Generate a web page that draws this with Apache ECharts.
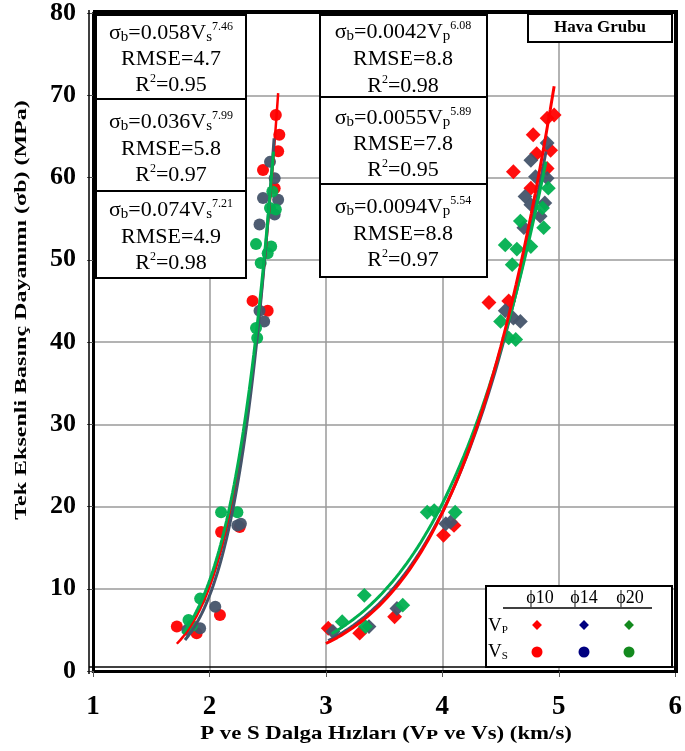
<!DOCTYPE html>
<html>
<head>
<meta charset="utf-8">
<script src="https://cdn.jsdelivr.net/npm/echarts@6/dist/echarts.min.js"></script>
<style>html,body{margin:0;padding:0;background:#fff}#c{width:685px;height:751px}</style>
</head>
<body>
<div id="c"></div>
<script>
// ---- data ----
const xTicks = [1, 2, 3, 4, 5, 6];
const yTicks = [0, 10, 20, 30, 40, 50, 60, 70, 80];

// S-wave velocity (circles)
const vsPhi10 = [[1.72,5.4],[1.89,4.6],[2.09,6.8],[2.10,16.9],[2.26,17.5],[2.37,45.0],[2.50,43.8],[2.57,67.6],[2.60,65.2],[2.59,63.2],[2.46,60.9],[2.56,58.7]];
const vsPhi14 = [[1.81,5.0],[1.92,5.2],[2.05,7.8],[2.24,17.7],[2.27,17.9],[2.43,43.8],[2.47,42.5],[2.52,61.9],[2.56,59.9],[2.46,57.5],[2.59,57.3],[2.43,54.3],[2.56,55.5]];
const vsPhi20 = [[1.82,6.2],[1.85,5.5],[1.92,8.8],[2.10,19.3],[2.24,19.3],[2.41,40.5],[2.40,41.7],[2.52,56.3],[2.57,56.1],[2.54,58.3],[2.40,51.9],[2.53,51.6],[2.44,49.6],[2.50,50.8]];

// P-wave velocity (diamonds)
const vpPhi10 = [[3.02,5.2],[3.29,4.6],[3.59,6.6],[4.01,16.5],[4.10,17.7],[4.40,44.8],[4.57,45.0],[4.61,60.7],[4.76,58.7],[4.78,65.2],[4.81,62.9],[4.90,61.1],[4.93,63.3],[4.90,67.2],[4.96,67.6]];
const vpPhi14 = [[3.06,4.8],[3.37,5.4],[3.61,7.6],[4.03,17.9],[4.07,18.1],[4.54,43.8],[4.61,42.9],[4.67,42.5],[4.70,53.9],[4.71,57.7],[4.76,56.7],[4.84,55.3],[4.88,56.9],[4.76,62.1],[4.80,60.1],[4.90,59.9],[4.90,64.2]];
const vpPhi20 = [[3.14,6.0],[3.33,9.2],[3.34,5.4],[3.66,8.0],[3.87,19.3],[3.93,19.5],[4.11,19.3],[4.50,42.5],[4.57,40.5],[4.63,40.3],[4.54,51.8],[4.60,49.4],[4.64,51.3],[4.67,54.7],[4.76,51.6],[4.87,53.9],[4.86,56.3],[4.91,58.7]];

// power-law fits printed on the chart: sigma = a * V^b, drawn over [from, to]
const fitVs10 = {a:0.058,  b:7.46, from:1.72, to:2.59};
const fitVs14 = {a:0.036,  b:7.99, from:1.79, to:2.555};
const fitVs20 = {a:0.074,  b:7.21, from:1.77, to:2.55};
const fitVp10 = {a:0.0042, b:6.08, from:3.00, to:4.96};
const fitVp14 = {a:0.0055, b:5.89, from:3.02, to:4.89};
const fitVp20 = {a:0.0094, b:5.54, from:3.05, to:4.89};

function fitCurve(f){
  const pts=[]; const n=60;
  for(let i=0;i<=n;i++){const x=f.from+(f.to-f.from)*i/n; pts.push([x, f.a*Math.pow(x,f.b)]);}
  return pts;
}

const RED='#ff0000', BLUE='#44546a', GREEN='#00b050';
const TRED='#ff1a1a', TBLUE='#2b3990', TGREEN='#1f8f2f';
const SERIF='"Liberation Serif","DejaVu Serif",serif';

function scatter(data,color,circle){
  return {type:'scatter', data, z:2,
    symbol: circle?'circle':'rect', symbolSize: circle?12:10.5, symbolRotate: circle?0:45,
    itemStyle:{color, opacity:0.95}, silent:true};
}
function line(f,color,w){
  return {type:'line', data:fitCurve(f), showSymbol:false, symbol:'none', z:3,
    lineStyle:{color, width:w}, silent:true};
}

function eqRich(color){
  return {
    m:{fontFamily:SERIF, fontSize:22, color, lineHeight:24, verticalAlign:'middle'},
    s:{fontFamily:SERIF, fontSize:15, color, lineHeight:14, verticalAlign:'bottom'},
    p:{fontFamily:SERIF, fontSize:12, color, lineHeight:10, verticalAlign:'top'}
  };
}
function txt(x,y,text,color){
  return {type:'text', x, y, z:20, style:{text, rich:eqRich(color), align:'center', verticalAlign:'middle'}};
}
function box(x,y,w,h){
  return {type:'rect', z:15, shape:{x,y,width:w,height:h}, style:{fill:'#fff', stroke:'#000', lineWidth:2}};
}

const graphics = [
  // left column boxes (Vs)
  box(96,15,150,84), box(96,99,150,92), box(96,191,150,87),
  txt(171,33,'{m|σ}{s|b}{m|=0.058V}{s|s}{p|7.46}',TRED),
  txt(171,59,'{m|RMSE=4.7}',TRED),
  txt(171,85,'{m|R}{p|2}{m|=0.95}',TRED),
  txt(171,122,'{m|σ}{s|b}{m|=0.036V}{s|s}{p|7.99}',TBLUE),
  txt(171,149,'{m|RMSE=5.8}',TBLUE),
  txt(171,175,'{m|R}{p|2}{m|=0.97}',TBLUE),
  txt(171,210,'{m|σ}{s|b}{m|=0.074V}{s|s}{p|7.21}',TGREEN),
  txt(171,237,'{m|RMSE=4.9}',TGREEN),
  txt(171,263,'{m|R}{p|2}{m|=0.98}',TGREEN),
  // right column boxes (Vp)
  box(320,15,167,82), box(320,97,167,87), box(320,184,167,93),
  txt(403,32,'{m|σ}{s|b}{m|=0.0042V}{s|p}{p|6.08}',TRED),
  txt(403,59,'{m|RMSE=8.8}',TRED),
  txt(403,86,'{m|R}{p|2}{m|=0.98}',TRED),
  txt(403,118,'{m|σ}{s|b}{m|=0.0055V}{s|p}{p|5.89}',TBLUE),
  txt(403,144,'{m|RMSE=7.8}',TBLUE),
  txt(403,170,'{m|R}{p|2}{m|=0.95}',TBLUE),
  txt(403,207,'{m|σ}{s|b}{m|=0.0094V}{s|p}{p|5.54}',TGREEN),
  txt(403,234,'{m|RMSE=8.8}',TGREEN),
  txt(403,260,'{m|R}{p|2}{m|=0.97}',TGREEN),
  // title box
  {type:'rect', z:15, shape:{x:528,y:14,width:144,height:28}, style:{fill:'#fff', stroke:'#000', lineWidth:2}},
  {type:'text', x:600, y:28, z:20, style:{text:'Hava Grubu', fontFamily:SERIF, fontWeight:'bold', fontSize:17, fill:'#000', align:'center', verticalAlign:'middle'}},
  // legend box
  {type:'rect', z:15, shape:{x:486,y:586,width:186,height:81}, style:{fill:'#fff', stroke:'#000', lineWidth:2}},
  {type:'text', x:540, y:598, z:20, style:{text:'ϕ10', fontFamily:SERIF, fontSize:18, fill:'#000', align:'center', verticalAlign:'middle'}},
  {type:'text', x:584, y:598, z:20, style:{text:'ϕ14', fontFamily:SERIF, fontSize:18, fill:'#000', align:'center', verticalAlign:'middle'}},
  {type:'text', x:630, y:598, z:20, style:{text:'ϕ20', fontFamily:SERIF, fontSize:18, fill:'#000', align:'center', verticalAlign:'middle'}},
  {type:'line', z:20, shape:{x1:503,y1:608,x2:652,y2:608}, style:{stroke:'#000', lineWidth:1.5}},
  {type:'text', x:488, y:626, z:20, style:{text:'{m|V}{s|P}', rich:{m:{fontFamily:SERIF,fontSize:19,color:'#000',lineHeight:20},s:{fontFamily:SERIF,fontSize:11,color:'#000',lineHeight:11,verticalAlign:'bottom'}}, align:'left', verticalAlign:'middle'}},
  {type:'text', x:488, y:652, z:20, style:{text:'{m|V}{s|S}', rich:{m:{fontFamily:SERIF,fontSize:19,color:'#000',lineHeight:20},s:{fontFamily:SERIF,fontSize:11,color:'#000',lineHeight:11,verticalAlign:'bottom'}}, align:'left', verticalAlign:'middle'}},
  {type:'rect', z:20, x:537, y:625, rotation:Math.PI/4, shape:{x:-3.5,y:-3.5,width:7,height:7}, style:{fill:'#ff0000'}},
  {type:'rect', z:20, x:584, y:625, rotation:Math.PI/4, shape:{x:-3.5,y:-3.5,width:7,height:7}, style:{fill:'#000080'}},
  {type:'rect', z:20, x:629, y:625, rotation:Math.PI/4, shape:{x:-3.5,y:-3.5,width:7,height:7}, style:{fill:'#138a1e'}},
  {type:'circle', z:20, shape:{cx:537,cy:652,r:5.5}, style:{fill:'#ff0000'}},
  {type:'circle', z:20, shape:{cx:584,cy:652,r:5.5}, style:{fill:'#000080'}},
  {type:'circle', z:20, shape:{cx:629,cy:652,r:5.5}, style:{fill:'#138a1e'}},
  // axis names (stretched like the reference)
  {type:'text', x:22, y:310, z:20, rotation:Math.PI/2, scaleX:1.5, scaleY:1,
    style:{text:'Tek Eksenli Basınç Dayanımı (σb) (MPa)', fontFamily:SERIF, fontWeight:'bold', fontSize:16, fill:'#000', align:'center', verticalAlign:'middle'}},
  {type:'text', x:386, y:734, z:20, scaleX:1.2, scaleY:1,
    style:{text:'P ve S Dalga Hızları (Vᴘ ve Vs) (km/s)', fontFamily:SERIF, fontWeight:'bold', fontSize:19, fill:'#000', align:'center', verticalAlign:'middle'}},
  // frame
  {type:'line', z:25, shape:{x1:93,y1:12,x2:678,y2:12}, style:{stroke:'#000', lineWidth:4}},
  {type:'line', z:25, shape:{x1:676,y1:10,x2:676,y2:673}, style:{stroke:'#000', lineWidth:4}},
  {type:'line', z:25, shape:{x1:89,y1:10,x2:89,y2:674}, style:{stroke:'#000', lineWidth:1.5}},
  {type:'line', z:25, shape:{x1:89,y1:667,x2:678,y2:667}, style:{stroke:'#000', lineWidth:1.5}}
];

const chart = echarts.init(document.getElementById('c'), null, {renderer:'canvas'});
chart.setOption({
  animation:false,
  backgroundColor:'#fff',
  grid:{left:93, right:8, top:11, bottom:80, containLabel:false},
  xAxis:{type:'value', min:xTicks[0], max:xTicks[xTicks.length-1], interval:1,
    axisLine:{show:true, onZero:false, lineStyle:{color:'#000', width:3}},
    axisTick:{show:true, inside:false, length:6, lineStyle:{color:'#555', width:1}},
    axisLabel:{fontFamily:SERIF, fontWeight:'bold', fontSize:27, color:'#000', margin:23},
    splitLine:{show:true, lineStyle:{color:'#9a9a9a', width:1.5}}},
  yAxis:{type:'value', min:yTicks[0], max:yTicks[yTicks.length-1], interval:10,
    axisLine:{show:true, onZero:false, lineStyle:{color:'#000', width:3}},
    axisTick:{show:true, inside:false, length:6, lineStyle:{color:'#555', width:1}},
    axisLabel:{fontFamily:SERIF, fontWeight:'bold', fontSize:26, color:'#000', margin:17},
    splitLine:{show:true, lineStyle:{color:'#9a9a9a', width:1.5}}},
  series:[
    scatter(vsPhi10,RED,true), scatter(vsPhi14,BLUE,true), scatter(vsPhi20,GREEN,true),
    scatter(vpPhi10,RED,false), scatter(vpPhi14,BLUE,false), scatter(vpPhi20,GREEN,false),
    line(fitVs10,RED,2.5), line(fitVs14,BLUE,3), line(fitVs20,GREEN,3),
    line(fitVp14,BLUE,3), line(fitVp20,GREEN,3), line(fitVp10,RED,3)
  ],
  graphic:graphics
});
</script>
</body>
</html>
